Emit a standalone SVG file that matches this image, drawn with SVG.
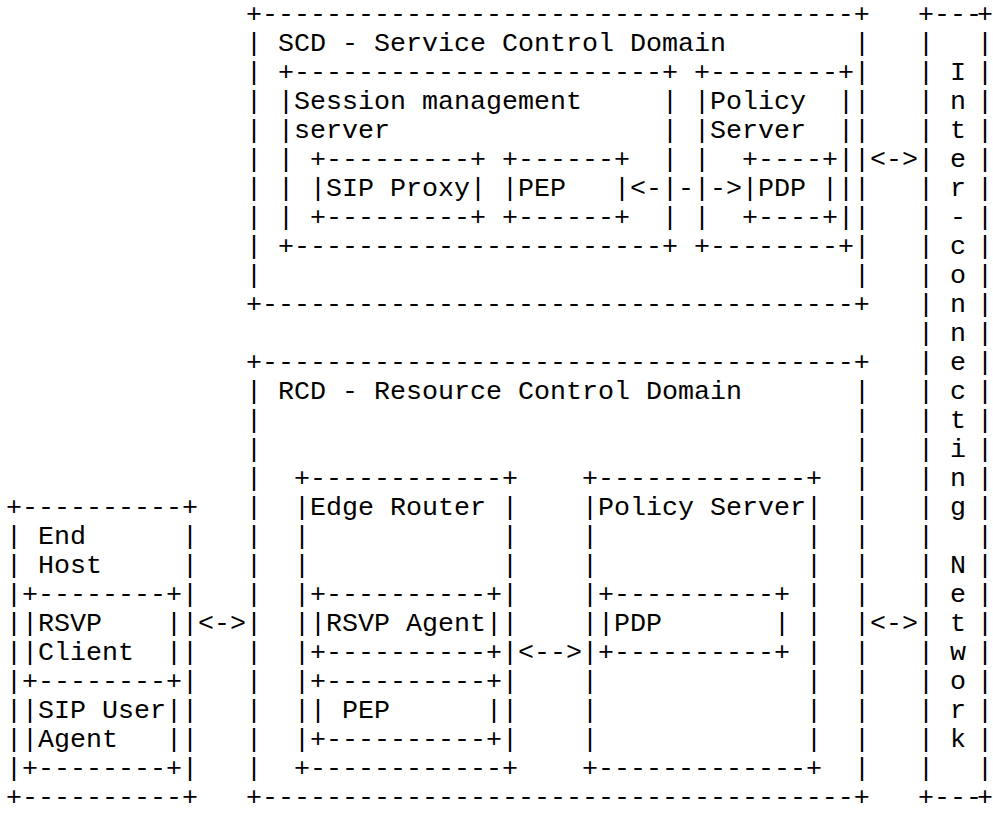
<svg xmlns="http://www.w3.org/2000/svg" width="993" height="813" viewBox="0 0 993 813">
<style>
text { font-family: "Liberation Mono", "Courier New", monospace; font-size: 26.67px; fill: #000; }
</style>
<rect width="993" height="813" fill="#fff"/>
<g id="scd">
<text x="246" y="22">+-------------------------------------+</text>
<text x="246" y="312">+-------------------------------------+</text>
<text x="246 246 246 246 246 246 246 246 246" y="51 80 109 138 167 196 225 254 283">|||||||||</text>
<text x="854 854 854 854 854 854 854 854 854" y="51 80 109 138 167 196 225 254 283">|||||||||</text>
<text x="278" y="51">SCD - Service Control Domain</text>
</g>
<g id="session-management-server">
<text x="278" y="80">+-----------------------+</text>
<text x="278" y="254">+-----------------------+</text>
<text x="278 278 278 278 278" y="109 138 167 196 225">|||||</text>
<text x="662 662 662 662 662" y="109 138 167 196 225">|||||</text>
<text x="294" y="109">Session management</text>
<text x="294" y="138">server</text>
</g>
<g id="sip-proxy">
<text x="310" y="167">+---------+</text>
<text x="310" y="225">+---------+</text>
<text x="310" y="196">|</text>
<text x="470" y="196">|</text>
<text x="326" y="196">SIP Proxy</text>
</g>
<g id="pep-scd">
<text x="502" y="167">+------+</text>
<text x="502" y="225">+------+</text>
<text x="502" y="196">|</text>
<text x="614" y="196">|</text>
<text x="518" y="196">PEP</text>
</g>
<g id="policy-server-scd">
<text x="694" y="80">+--------+</text>
<text x="694" y="254">+--------+</text>
<text x="694 694 694 694 694" y="109 138 167 196 225">|||||</text>
<text x="838 838 838 838 838" y="109 138 167 196 225">|||||</text>
<text x="710" y="109">Policy</text>
<text x="710" y="138">Server</text>
</g>
<g id="pdp-scd">
<text x="742" y="167">+----+</text>
<text x="742" y="225">+----+</text>
<text x="742" y="196">|</text>
<text x="822" y="196">|</text>
<text x="758" y="196">PDP</text>
</g>
<g id="interconnecting-network">
<text x="918 934 950 966 977" y="22">+---+</text>
<text x="918 934 950 966 977" y="805">+---+</text>
<text x="918 918 918 918 918 918 918 918 918 918 918 918 918 918 918 918 918 918 918 918 918 918 918 918 918 918" y="51 80 109 138 167 196 225 254 283 312 341 370 399 428 457 486 515 544 573 602 631 660 689 718 747 776">||||||||||||||||||||||||||</text>
<text x="977 977 977 977 977 977 977 977 977 977 977 977 977 977 977 977 977 977 977 977 977 977 977 977 977 977" y="51 80 109 138 167 196 225 254 283 312 341 370 399 428 457 486 515 544 573 602 631 660 689 718 747 776">||||||||||||||||||||||||||</text>
<text x="950 950 950 950 950 950 950 950 950 950 950 950 950 950 950 950" y="80 109 138 167 196 225 254 283 312 341 370 399 428 457 486 515">Inter-connecting</text>
<text x="950 950 950 950 950 950 950" y="573 602 631 660 689 718 747">Network</text>
</g>
<g id="rcd">
<text x="246" y="370">+-------------------------------------+</text>
<text x="246" y="805">+-------------------------------------+</text>
<text x="246 246 246 246 246 246 246 246 246 246 246 246 246 246" y="399 428 457 486 515 544 573 602 631 660 689 718 747 776">||||||||||||||</text>
<text x="854 854 854 854 854 854 854 854 854 854 854 854 854 854" y="399 428 457 486 515 544 573 602 631 660 689 718 747 776">||||||||||||||</text>
<text x="278" y="399">RCD - Resource Control Domain</text>
</g>
<g id="edge-router">
<text x="294" y="486">+------------+</text>
<text x="294" y="776">+------------+</text>
<text x="294 294 294 294 294 294 294 294 294" y="515 544 573 602 631 660 689 718 747">|||||||||</text>
<text x="502 502 502 502 502 502 502 502 502" y="515 544 573 602 631 660 689 718 747">|||||||||</text>
<text x="310" y="515">Edge Router</text>
</g>
<g id="rsvp-agent">
<text x="310" y="602">+----------+</text>
<text x="310" y="660">+----------+</text>
<text x="310" y="631">|</text>
<text x="486" y="631">|</text>
<text x="326" y="631">RSVP Agent</text>
</g>
<g id="pep-rcd">
<text x="310" y="689">+----------+</text>
<text x="310" y="747">+----------+</text>
<text x="310" y="718">|</text>
<text x="486" y="718">|</text>
<text x="342" y="718">PEP</text>
</g>
<g id="policy-server-rcd">
<text x="582" y="486">+-------------+</text>
<text x="582" y="776">+-------------+</text>
<text x="582 582 582 582 582 582 582 582 582" y="515 544 573 602 631 660 689 718 747">|||||||||</text>
<text x="806 806 806 806 806 806 806 806 806" y="515 544 573 602 631 660 689 718 747">|||||||||</text>
<text x="598" y="515">Policy Server</text>
</g>
<g id="pdp-rcd">
<text x="598" y="602">+----------+</text>
<text x="598" y="660">+----------+</text>
<text x="598" y="631">|</text>
<text x="774" y="631">|</text>
<text x="614" y="631">PDP</text>
</g>
<g id="end-host">
<text x="6" y="515">+----------+</text>
<text x="6" y="805">+----------+</text>
<text x="6 6 6 6 6 6 6 6 6" y="544 573 602 631 660 689 718 747 776">|||||||||</text>
<text x="182 182 182 182 182 182 182 182 182" y="544 573 602 631 660 689 718 747 776">|||||||||</text>
<text x="38" y="544">End</text>
<text x="38" y="573">Host</text>
</g>
<g id="rsvp-client">
<text x="22" y="602">+--------+</text>
<text x="22" y="689">+--------+</text>
<text x="22 22" y="631 660">||</text>
<text x="166 166" y="631 660">||</text>
<text x="38" y="631">RSVP</text>
<text x="38" y="660">Client</text>
</g>
<g id="sip-user-agent">
<text x="22" y="776">+--------+</text>
<text x="22 22" y="718 747">||</text>
<text x="166 166" y="718 747">||</text>
<text x="38" y="718">SIP User</text>
<text x="38" y="747">Agent</text>
</g>
<g id="connectors">
<text x="870" y="167">&lt;-&gt;</text>
<text x="630" y="196">&lt;-</text>
<text x="678" y="196">-</text>
<text x="710" y="196">-&gt;</text>
<text x="198" y="631">&lt;-&gt;</text>
<text x="870" y="631">&lt;-&gt;</text>
<text x="518" y="660">&lt;--&gt;</text>
</g>
</svg>
